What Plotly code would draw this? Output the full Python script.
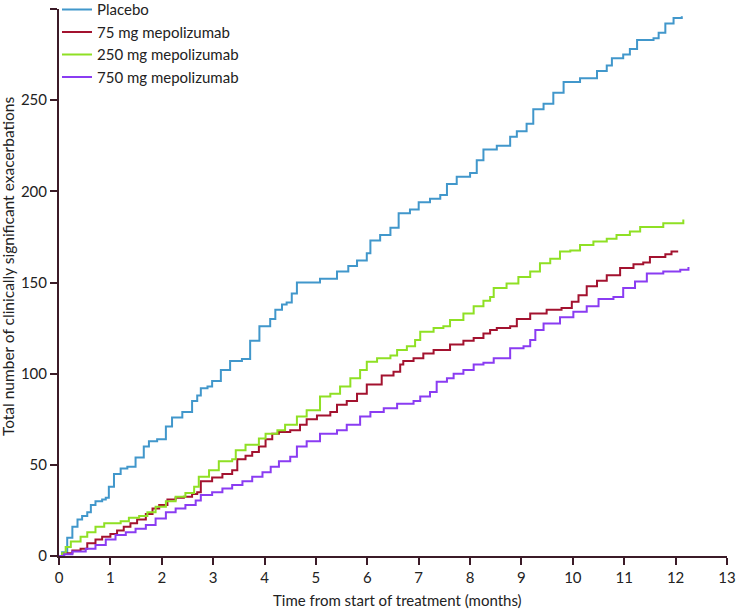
import plotly.graph_objects as go

# Readings (months, cumulative number of clinically significant exacerbations)
placebo_x = [0, 0.06, 0.16, 0.26, 0.36, 0.45, 0.55, 0.62, 0.71, 0.84, 0.91, 0.97, 1.07, 1.2, 1.33, 1.49, 1.65,
             1.75, 1.91, 2.08, 2.2, 2.4, 2.59, 2.69, 2.76, 2.89, 2.98, 3.15, 3.33, 3.56, 3.72, 3.9, 4.11, 4.21,
             4.34, 4.43, 4.53, 4.63, 4.89, 5.08, 5.31, 5.41, 5.63, 5.8, 5.99, 6.06, 6.25, 6.45, 6.61, 6.83, 7.0,
             7.22, 7.42, 7.55, 7.74, 8.0, 8.13, 8.26, 8.52, 8.78, 8.91, 9.1, 9.23, 9.43, 9.62, 9.82, 10.14, 10.47,
             10.66, 10.76, 10.98, 11.11, 11.25, 11.57, 11.67, 11.8, 11.96, 12.12]
placebo_y = [0, 2, 10, 16, 20, 22, 24, 28, 30, 31, 32, 38, 45, 48, 49, 54, 60,
             63, 64, 71, 76, 79, 85, 88, 92, 93, 96, 102, 107, 108, 118, 126, 130, 135,
             138, 139, 144, 150, 150, 152, 152, 156, 159, 162, 166, 173, 176, 180, 188, 190, 194,
             196, 198, 204, 208, 210, 217, 223, 225, 230, 233, 237, 245, 248, 254, 260, 262, 266,
             269, 273, 275, 278, 283, 284, 287, 292, 295, 296]

mg75_x = [0, 0.1, 0.26, 0.42, 0.55, 0.71, 0.84, 1.0, 1.13, 1.26, 1.39, 1.52, 1.69, 1.82, 1.95, 2.11, 2.27,
          2.43, 2.59, 2.69, 2.76, 2.98, 3.18, 3.37, 3.47, 3.63, 3.76, 3.89, 4.02, 4.15, 4.28, 4.5, 4.69,
          4.82, 5.02, 5.28, 5.41, 5.6, 5.8, 5.99, 6.28, 6.51, 6.64, 6.7, 6.9, 7.09, 7.29, 7.61, 7.87, 8.07,
          8.26, 8.39, 8.52, 8.78, 8.91, 9.17, 9.49, 9.78, 9.98, 10.11, 10.27, 10.47, 10.66, 10.92, 11.18,
          11.37, 11.5, 11.8, 11.92, 12.05]
mg75_y = [0, 1.5, 3, 4, 7, 9, 10.5, 12, 14, 16, 18, 20, 23, 26, 28, 31, 32,
          32.5, 34, 35, 41, 43, 45, 47, 53, 55, 57, 60, 64, 67, 68, 69, 72,
          75, 77, 79, 83, 85, 89, 94, 99, 101, 105, 107, 108.5, 111, 113, 116, 118, 119.5,
          122, 124, 125, 126, 130, 133, 135, 136, 139.5, 143, 148, 151, 154, 158, 160,
          161, 164, 165.5, 167, 167]

mg250_x = [0, 0.06, 0.13, 0.23, 0.42, 0.55, 0.71, 0.88, 1.2, 1.36, 1.56, 1.72, 1.88, 2.08, 2.27, 2.46,
           2.63, 2.72, 2.92, 3.11, 3.37, 3.44, 3.63, 3.89, 4.02, 4.25, 4.4, 4.63, 4.82, 5.08, 5.28, 5.47,
           5.67, 5.86, 5.99, 6.19, 6.45, 6.58, 6.77, 6.93, 7.03, 7.29, 7.48, 7.61, 7.87, 8.07, 8.26, 8.39,
           8.46, 8.71, 8.94, 9.17, 9.36, 9.56, 9.75, 9.95, 10.14, 10.4, 10.66, 10.85, 11.11, 11.31, 11.76,
           12.15]
mg250_y = [0, 1.5, 5, 8, 10.5, 13, 16, 18, 19, 21, 22, 24, 27, 30, 32.5, 34.5,
           38, 43.5, 47, 52, 53, 58, 61, 64.5, 67, 69, 72, 76.5, 80, 87.5, 89, 93,
           97.5, 102, 106.5, 108.5, 110, 113, 115, 118.5, 123, 125, 126, 129.5, 133, 137, 140, 142,
           147, 149.5, 153, 156, 160.5, 163, 167, 167.5, 170.5, 172.5, 174, 176, 178, 180.5, 182.5,
           184.5]

mg750_x = [0, 0.1, 0.26, 0.52, 0.71, 0.91, 1.1, 1.3, 1.49, 1.69, 1.88, 2.08, 2.27, 2.46, 2.66, 2.76,
           2.98, 3.18, 3.37, 3.57, 3.76, 3.96, 4.12, 4.28, 4.5, 4.63, 4.82, 5.08, 5.41, 5.6, 5.86, 6.06,
           6.32, 6.58, 6.9, 7.03, 7.22, 7.35, 7.55, 7.68, 7.87, 8.07, 8.26, 8.46, 8.78, 9.04, 9.17, 9.27,
           9.43, 9.75, 10.01, 10.27, 10.5, 10.79, 10.98, 11.21, 11.44, 11.76, 12.09, 12.25]
mg750_y = [0, 1, 2.5, 4, 6, 9, 11.5, 13, 15, 17, 20.5, 24, 26, 28, 30.5, 33.5,
           35, 37, 39, 41, 43.5, 46, 49, 52, 54.5, 60, 63, 67, 69, 72, 76.5, 79,
           81, 83.5, 85, 87.5, 90, 95.5, 97.5, 100, 102, 105, 106, 108.5, 114, 115, 118.5, 124,
           127.5, 131, 134, 137, 141, 142, 147, 150.5, 155, 156, 157, 158.5]

series = [
    ("Placebo", placebo_x, placebo_y, "#4197cb"),
    ("75 mg mepolizumab", mg75_x, mg75_y, "#a3122f"),
    ("250 mg mepolizumab", mg250_x, mg250_y, "#8fe024"),
    ("750 mg mepolizumab", mg750_x, mg750_y, "#8a3cf2"),
]

x_ticks = list(range(0, 14))
y_ticks = [0, 50, 100, 150, 200, 250, 300]
x_title = "Time from start of treatment (months)"
y_title = "Total number of clinically significant exacerbations"

fig = go.Figure()
for name, xs, ys, col in series:
    fig.add_trace(go.Scatter(x=xs, y=ys, mode="lines", name=name,
                             line=dict(color=col, width=2, shape="hv")))

axis_col = "#3b1b28"
font_fam = "Lato, 'Open Sans', sans-serif"
fig.update_layout(
    width=737, height=611,
    margin=dict(l=59, r=10, t=9, b=55, autoexpand=False),
    paper_bgcolor="white", plot_bgcolor="white",
    font=dict(family=font_fam, size=14, color="#222"),
    showlegend=True,
    legend=dict(x=-0.003, y=1.029, xanchor="left", yanchor="top",
                font=dict(size=15, color="#222"), bgcolor="rgba(0,0,0,0)",
                tracegroupgap=0, itemwidth=30),
    xaxis=dict(range=[0, 13], tickvals=x_ticks, ticks="outside", ticklen=7,
               tickwidth=2, tickcolor=axis_col, showline=True, linecolor=axis_col,
               linewidth=2, showgrid=False, zeroline=False,
               tickfont=dict(size=15, color="#222")),
    yaxis=dict(range=[0, 300], tickvals=y_ticks, ticks="outside", ticklen=7,
               tickwidth=2, tickcolor=axis_col, showline=True, linecolor=axis_col,
               linewidth=2, showgrid=False, zeroline=False,
               tickfont=dict(size=15, color="#222")),
    annotations=[
        dict(text=x_title, xref="paper", yref="paper", x=0.506, y=-0.0804,
             xanchor="center", yanchor="middle", showarrow=False,
             font=dict(size=15, color="#222")),
        dict(text=y_title, xref="paper", yref="paper", x=-0.0763, y=0.530,
             xanchor="center", yanchor="middle", textangle=-90, showarrow=False,
             font=dict(size=15.5, color="#222")),
    ],
)

# remove the page's default 8px body margin so the figure fills the window exactly
fig.write_html("out.html", config={"displayModeBar": False},
               post_script="document.body.style.margin='0';document.body.style.overflow='hidden';")
